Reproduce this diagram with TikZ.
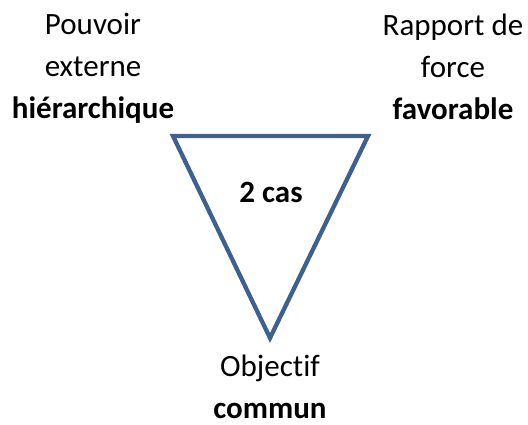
\documentclass[tikz,border=0pt]{standalone}
\usepackage{fontspec}
\setmainfont{Carlito}[Ligatures=NoCommon]
\usetikzlibrary{positioning}
\definecolor{triblue}{HTML}{3F5F8C}

\begin{document}
\begin{tikzpicture}[x=1pt,y=-1pt,
    lbl/.style={font=\fontsize{31}{42}\selectfont, align=center, inner sep=0pt, anchor=base},
    tri/.style={draw=triblue, line width=4.3pt}]
      \useasboundingbox (0,0) rectangle (528,425);
      \coordinate (TL) at (173,136);
      \coordinate (TR) at (368,136);
      \coordinate (B) at (270,338);
      \draw[tri] (TL) -- (TR) -- (B) -- cycle;
      % last line sits on the given baseline
      \node[lbl] (pouvoir) at (93,119) {Pouvoir\\externe\\\textbf{hiérarchique}};
      \node[lbl] (rapport) at (453,120) {Rapport de\\force\\\textbf{favorable}};
      \node[lbl] (cas) at (271,203) {\textbf{2 cas}};
      \node[lbl] (objectif) at (270,418) {Objectif\\\textbf{commun}};
    \end{tikzpicture}
\end{document}
